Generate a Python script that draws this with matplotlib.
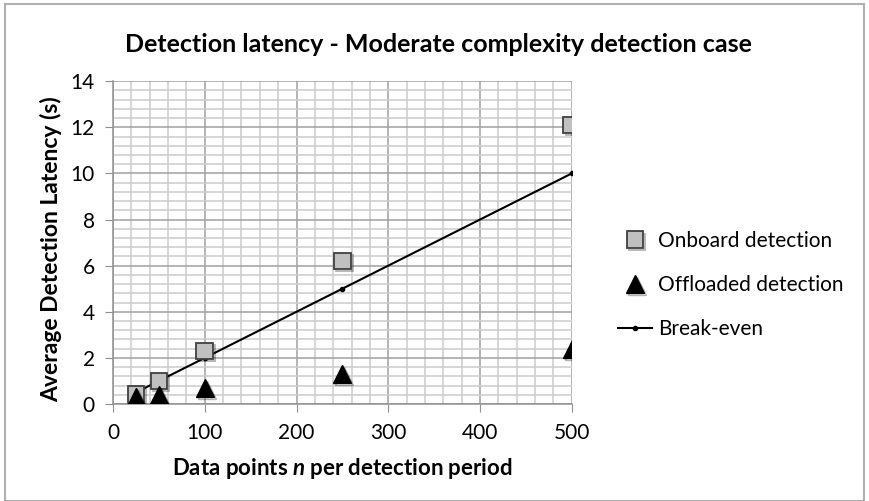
import matplotlib.pyplot as plt
import matplotlib.patheffects as pe
from matplotlib.patches import Rectangle
from matplotlib.ticker import MultipleLocator

# data
n_points = [25, 50, 100, 250, 500]
onboard = [0.4, 1.0, 2.3, 6.2, 12.1]
offloaded = [0.3, 0.4, 0.7, 1.3, 2.4]
break_even = [0.5, 1.0, 2.0, 5.0, 10.0]

plt.rcParams['font.family'] = ['Lato', 'DejaVu Sans']
plt.rcParams['mathtext.fontset'] = 'custom'
plt.rcParams['mathtext.it'] = 'Lato:bold:italic'

fig = plt.figure(figsize=(8.69, 5.01), dpi=100)
ax = fig.add_axes([0.130, 0.1936, 0.528, 0.6444])

# frame around the whole figure
fig.patches.append(Rectangle((0.006, 0.0), 0.988, 0.992, transform=fig.transFigure,
                             fill=False, edgecolor='#b0b0b0', lw=1.5))

shadow = [pe.SimpleLineShadow(offset=(1.5, -1.5), alpha=0.3), pe.Normal()]

ax.plot(n_points, break_even, color='black', lw=1.5, marker='o', ms=3,
        label='Break-even', zorder=3)
ax.plot(n_points, onboard, linestyle='none', marker='s', ms=12,
        markerfacecolor='#c0c0c0', markeredgecolor='#404040', markeredgewidth=1.3,
        label='Onboard detection', zorder=4, path_effects=shadow)
ax.plot(n_points, offloaded, linestyle='none', marker='^', ms=13,
        color='black', label='Offloaded detection', zorder=5, path_effects=shadow)

ax.set_xlim(0, 500)
ax.set_ylim(0, 14)
ax.xaxis.set_major_locator(MultipleLocator(100))
ax.xaxis.set_minor_locator(MultipleLocator(20))
ax.yaxis.set_major_locator(MultipleLocator(2))
ax.yaxis.set_minor_locator(MultipleLocator(0.4))
ax.grid(which='major', color='#a0a0a0', lw=1.1)
ax.grid(which='minor', color='#cccccc', lw=1.1)
ax.set_axisbelow(True)

for s in ['top', 'right']:
    ax.spines[s].set_visible(False)
for s in ['left', 'bottom']:
    ax.spines[s].set_color('#909090')
    ax.spines[s].set_linewidth(1.1)
ax.tick_params(which='major', length=6, color='#909090', labelsize=15)
ax.tick_params(axis='y', pad=7)
ax.tick_params(axis='x', pad=8)
ax.tick_params(which='minor', length=0)

ax.set_xlabel(r'Data points $\it{n}$ per detection period', fontsize=16,
              fontweight='bold', labelpad=9)
ax.set_ylabel('Average Detection Latency (s)', fontsize=16.5, fontweight='bold')
ax.yaxis.set_label_coords(-0.111, 0.48)
fig.suptitle('Detection latency - Moderate complexity detection case',
             x=0.505, y=0.935, fontsize=18, fontweight='bold')

h, l = ax.get_legend_handles_labels()
order = [1, 2, 0]
ax.legend([h[i] for i in order], [l[i] for i in order], frameon=False,
          fontsize=15, loc='center left', bbox_to_anchor=(0.69, 0.431),
          bbox_transform=fig.transFigure, handlelength=1.6, labelspacing=1.15,
          handletextpad=0.3)

fig.savefig('out.png', dpi=100)
